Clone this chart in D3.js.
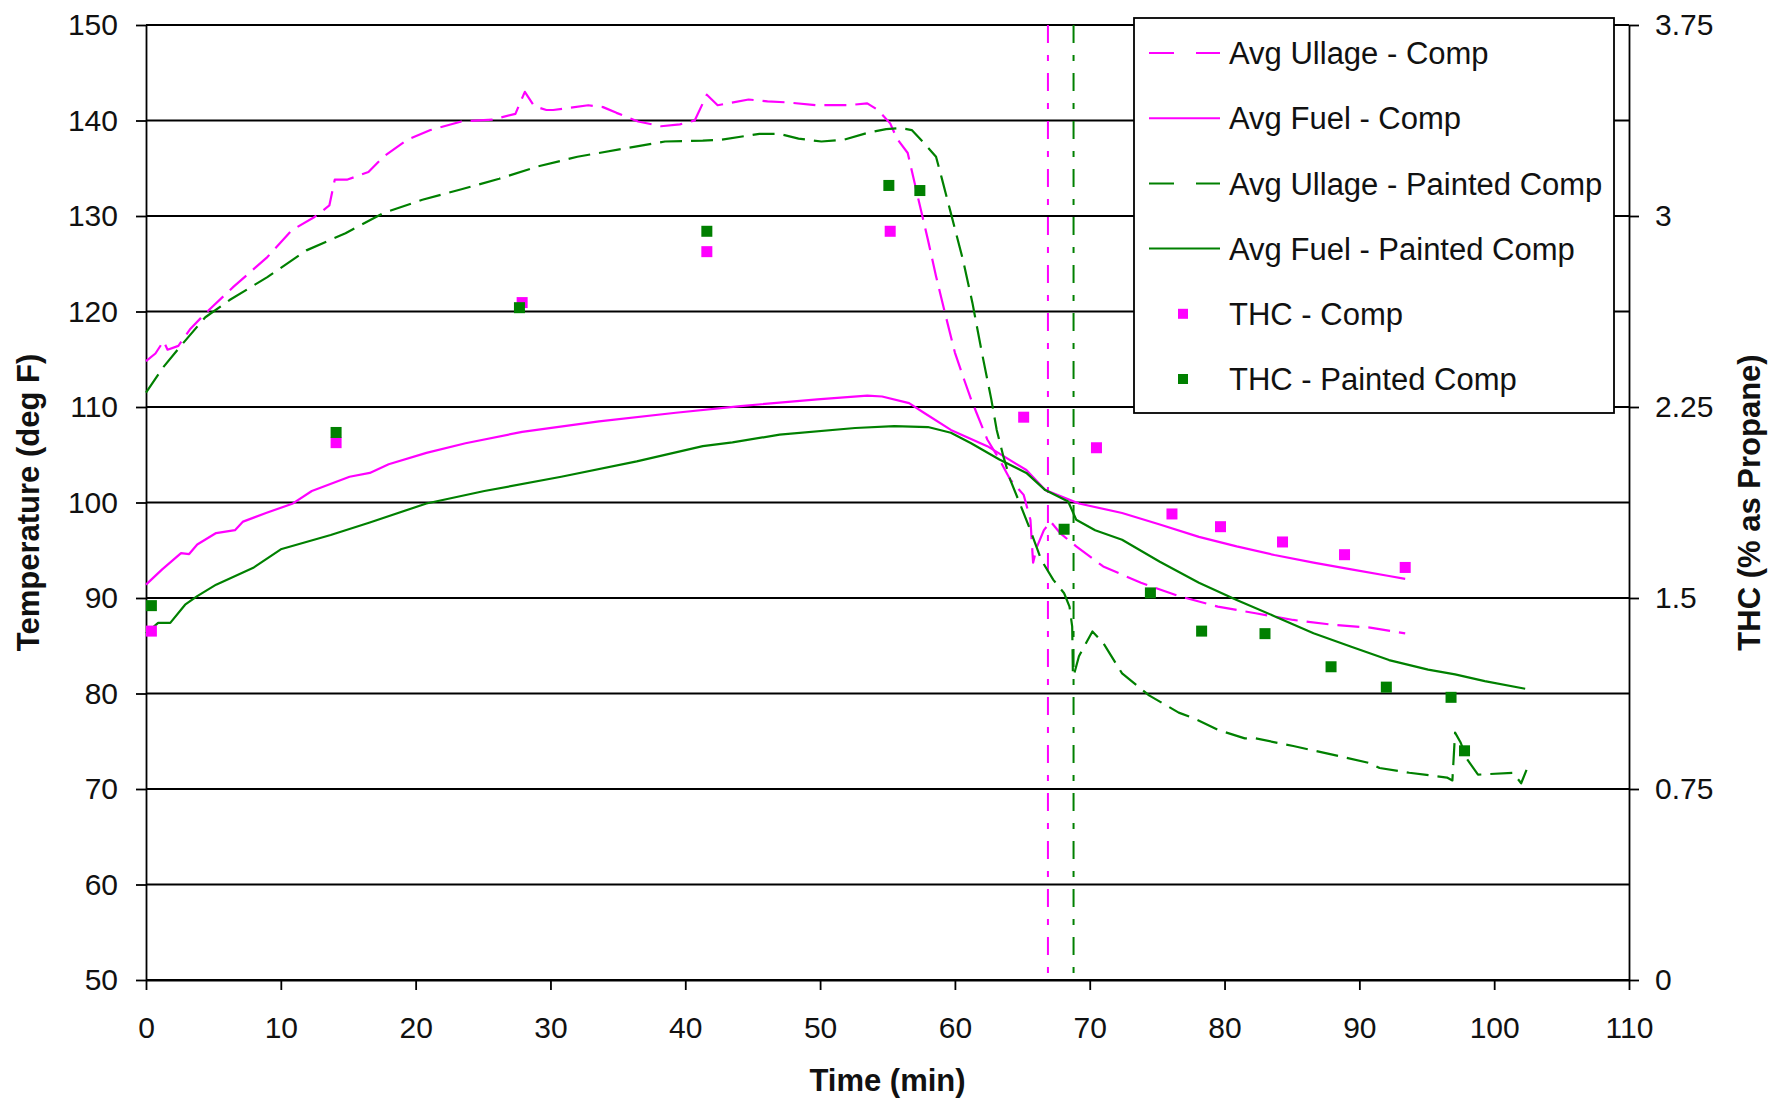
<!DOCTYPE html>
<html>
<head>
<meta charset="utf-8">
<script src="https://cdn.jsdelivr.net/npm/d3@7"></script>
<style>
  html, body { margin: 0; padding: 0; background: #fff; }
  svg { display: block; }
  text { font-family: "Liberation Sans", Arial, sans-serif; fill: #111; }
</style>
</head>
<body>
<svg id="chart" width="1780" height="1098"></svg>
<script>
// ---------------- DATA ----------------
const xTicks = [0, 10, 20, 30, 40, 50, 60, 70, 80, 90, 100, 110];
const yTicks = [50, 60, 70, 80, 90, 100, 110, 120, 130, 140, 150];
const y2Ticks = [0, 0.75, 1.5, 2.25, 3, 3.75];

const seriesNames = ["Avg Ullage - Comp", "Avg Fuel - Comp", "Avg Ullage - Painted Comp",
                     "Avg Fuel - Painted Comp", "THC - Comp", "THC - Painted Comp"];

// Avg Ullage - Comp (deg F)
const ullageCompTime = [0, 0.7, 1.3, 1.6, 2.4, 3.3, 4.4, 6.5, 9.0, 10.8, 12.5, 13.6, 14.0, 14.9, 16.5, 17.6, 19.4,
  21.1, 23.4, 25.7, 27.4, 28.1, 28.8, 29.7, 30.2, 32.8, 33.9, 34.9, 36.5, 38.2, 39.6, 40.7, 41.6, 42.4,
  44.7, 46.1, 47.5, 49.8, 52.1, 53.5, 54.3, 55.2, 55.7, 56.5, 57.3, 58.0, 58.6, 59.2, 60.0, 60.7, 61.2,
  61.6, 62.4, 63.3, 64.1, 65.1, 65.6, 65.8, 66.1, 66.6, 67.1, 67.8, 69.0, 71.0, 73.8, 76.6, 79.5, 82.3,
  85.1, 88.0, 90.8, 93.4];
const ullageCompTemp = [114.8, 115.6, 116.9, 116.0, 116.4, 118.2, 119.8, 122.6, 125.7, 128.5, 129.9, 131.1, 133.8, 133.8, 134.6, 136.2, 138.0,
  139.0, 139.9, 140.1, 140.7, 143.0, 141.5, 141.1, 141.1, 141.6, 141.4, 140.8, 139.9, 139.4, 139.6, 140.0, 142.7, 141.6,
  142.2, 142.0, 141.9, 141.6, 141.6, 141.8, 141.1, 139.7, 138.1, 136.6, 131.7, 127.5, 123.7, 120.2, 115.7, 112.8, 110.8,
  109.4, 106.6, 104.5, 102.4, 100.8, 98.2, 93.7, 95.4, 97.1, 98.0, 96.8, 95.4, 93.3, 91.6, 90.2, 89.1, 88.4,
  87.7, 87.2, 86.9, 86.3];

// Avg Fuel - Comp (deg F)
const fuelCompTime = [0, 1.2, 2.6, 3.2, 3.8, 5.2, 6.6, 7.2, 8.9, 10.9, 12.3, 15.1, 16.6, 18.0, 20.8, 23.7, 27.9,
  33.6, 39.3, 44.1, 49.8, 53.5, 54.6, 56.6, 57.7, 59.7, 62.4, 65.3, 66.7, 69.2, 72.4, 75.2, 78.1, 80.9,
  83.7, 86.6, 89.4, 92.2, 93.4];
const fuelCompTemp = [91.4, 93.0, 94.7, 94.6, 95.6, 96.8, 97.1, 98.0, 98.9, 99.9, 101.2, 102.7, 103.1, 104.0, 105.2, 106.2, 107.4,
  108.5, 109.4, 110.1, 110.8, 111.2, 111.1, 110.4, 109.4, 107.6, 105.9, 103.4, 101.3, 99.9, 98.9, 97.7, 96.4, 95.4,
  94.5, 93.7, 93.0, 92.3, 92.0];

// Avg Ullage - Painted Comp (deg F)
const ullagePaintTime = [0, 1.3, 2.7, 4.4, 6.2, 9.0, 11.9, 14.8, 17.6, 20.5, 23.4, 26.2, 29.1, 32.0, 35.6, 38.5, 41.3,
  42.7, 45.5, 47.0, 48.4, 50.1, 51.8, 53.5, 54.9, 56.0, 56.8, 57.6, 58.6, 59.0, 59.7, 60.6, 61.3, 62.0,
  62.7, 63.1, 63.6, 64.1, 64.9, 65.6, 66.4, 67.3, 68.1, 68.5, 68.7, 68.75, 68.8, 69.2, 70.2, 71.0, 72.4,
  74.4, 76.6, 77.9, 79.5, 81.5, 82.3, 85.1, 88.0, 90.8, 91.5, 93.7, 96.5, 96.9, 97.1, 97.5, 98.0, 98.8,
  101.4, 102.0, 102.4];
const ullagePaintTemp = [111.5, 114.2, 116.6, 119.4, 121.2, 123.6, 126.4, 128.2, 130.3, 131.7, 132.8, 133.9, 135.2, 136.2, 137.1, 137.8, 137.9,
  138.0, 138.6, 138.6, 138.1, 137.8, 138.0, 138.7, 139.1, 139.2, 139.0, 137.8, 136.2, 134.1, 130.3, 125.4, 120.9, 115.7,
  110.8, 107.6, 104.8, 102.4, 99.6, 97.1, 94.0, 91.9, 90.5, 89.1, 87.0, 82.2, 81.8, 83.9, 86.5, 85.3, 82.1,
  79.8, 78.0, 77.3, 76.2, 75.3, 75.3, 74.5, 73.6, 72.7, 72.2, 71.7, 71.2, 70.9, 75.9, 74.9, 73.1, 71.5,
  71.7, 70.6, 72.0];

// Avg Fuel - Painted Comp (deg F)
const fuelPaintTime = [0, 0.9, 1.8, 2.9, 3.8, 5.2, 8.0, 10.0, 13.7, 16.6, 20.8, 25.1, 30.8, 36.4, 41.3, 43.5, 47.0,
  52.6, 55.5, 58.0, 59.7, 61.2, 63.3, 65.3, 66.7, 68.4, 69.0, 70.4, 72.4, 75.2, 78.1, 80.9, 83.7, 86.6,
  89.4, 92.2, 95.1, 97.1, 99.3, 102.3];
const fuelPaintTemp = [86.3, 87.4, 87.4, 89.3, 90.2, 91.4, 93.2, 95.1, 96.6, 97.9, 99.9, 101.2, 102.7, 104.3, 105.9, 106.3, 107.1,
  107.8, 108.0, 107.9, 107.3, 106.2, 104.5, 103.1, 101.3, 100.1, 98.2, 97.1, 96.1, 93.8, 91.6, 89.8, 88.1, 86.3,
  84.9, 83.5, 82.5, 82.0, 81.3, 80.5];

// THC (% as Propane), right axis
const thcCompTime = [0.4, 14.1, 27.9, 41.6, 55.2, 65.1, 70.5, 76.1, 79.7, 84.3, 88.9, 93.4];
const thcCompValue = [1.37, 2.11, 2.66, 2.86, 2.94, 2.21, 2.09, 1.83, 1.78, 1.72, 1.67, 1.62];
const thcPaintTime = [0.4, 14.1, 27.7, 41.6, 55.1, 57.4, 68.1, 74.5, 78.3, 83.0, 87.9, 92.0, 96.8, 97.8];
const thcPaintValue = [1.47, 2.15, 2.64, 2.94, 3.12, 3.10, 1.77, 1.52, 1.37, 1.36, 1.23, 1.15, 1.11, 0.90];

// vertical event markers (min)
const eventTimes = [66.9, 68.8];

// ---------------- CHART ----------------
const W = 1780, H = 1098;
const M = { left: 146, right: 151, top: 25, bottom: 118 };
const MAGENTA = "#FF00FF", GREEN = "#008000";

const svg = d3.select("#chart");
const x = d3.scaleLinear().domain([0, 110]).range([M.left, W - M.right]);
const y = d3.scaleLinear().domain([50, 150]).range([H - M.bottom, M.top]);
const y2 = d3.scaleLinear().domain([0, 3.75]).range([H - M.bottom, M.top]);

// gridlines
svg.append("g").selectAll("line").data(yTicks).join("line")
  .attr("x1", x(0)).attr("x2", x(110))
  .attr("y1", d => y(d)).attr("y2", d => y(d))
  .attr("stroke", "#000").attr("stroke-width", 1.8);

// axes
function styleAxis(g) {
  g.selectAll(".domain").attr("stroke", "#000").attr("stroke-width", 1.8);
  g.selectAll(".tick line").attr("stroke", "#000").attr("stroke-width", 1.8);
  g.selectAll(".tick text").attr("font-size", 30).attr("fill", "#111")
    .attr("font-family", '"Liberation Sans", Arial, sans-serif');
}
svg.append("g").attr("transform", `translate(${M.left},0)`)
  .call(d3.axisLeft(y).tickValues(yTicks).tickSize(10).tickSizeOuter(0).tickPadding(18).tickFormat(d => String(d)))
  .call(styleAxis);
svg.append("g").attr("transform", `translate(0,${H - M.bottom})`)
  .call(d3.axisBottom(x).tickValues(xTicks).tickSize(10).tickSizeOuter(0).tickPadding(27).tickFormat(d => String(d)))
  .call(styleAxis);
svg.append("g").attr("transform", `translate(${W - M.right},0)`)
  .call(d3.axisRight(y2).tickValues(y2Ticks).tickSize(10).tickSizeOuter(0).tickPadding(16).tickFormat(d => String(d)))
  .call(styleAxis);

// axis titles
svg.append("text").attr("x", (x(0) + x(110)) / 2).attr("y", 1091)
  .attr("text-anchor", "middle").attr("font-size", 31).attr("font-weight", "bold").text("Time (min)");
svg.append("text").attr("transform", `translate(39,${(y(50) + y(150)) / 2}) rotate(-90)`)
  .attr("text-anchor", "middle").attr("font-size", 31).attr("font-weight", "bold").text("Temperature (deg F)");
svg.append("text").attr("transform", `translate(1760,${(y(50) + y(150)) / 2}) rotate(-90)`)
  .attr("text-anchor", "middle").attr("font-size", 31).attr("font-weight", "bold").text("THC (% as Propane)");

// vertical event lines
svg.append("g").selectAll("line").data(eventTimes).join("line")
  .attr("x1", d => x(d)).attr("x2", d => x(d))
  .attr("y1", y(150)).attr("y2", y(50))
  .attr("stroke", (d, i) => i === 0 ? MAGENTA : GREEN)
  .attr("stroke-width", 2)
  .attr("stroke-dasharray", "18,12,6,12");

// lines
const lineGen = d3.line().x(d => x(d[0])).y(d => y(d[1]));
const lines = [
  { t: ullageCompTime, v: ullageCompTemp, color: MAGENTA, dash: "22,9" },
  { t: fuelCompTime, v: fuelCompTemp, color: MAGENTA, dash: null },
  { t: ullagePaintTime, v: ullagePaintTemp, color: GREEN, dash: "22,9" },
  { t: fuelPaintTime, v: fuelPaintTemp, color: GREEN, dash: null }
];
lines.forEach(s => {
  svg.append("path")
    .datum(s.t.map((t, i) => [t, s.v[i]]))
    .attr("d", lineGen)
    .attr("fill", "none")
    .attr("stroke", s.color)
    .attr("stroke-width", 2.2)
    .attr("stroke-linejoin", "round")
    .attr("stroke-dasharray", s.dash);
});

// scatter (right axis)
const SQ = 11;
function squares(times, vals, color) {
  svg.append("g").selectAll("rect").data(times.map((t, i) => [t, vals[i]])).join("rect")
    .attr("x", d => x(d[0]) - SQ / 2).attr("y", d => y2(d[1]) - SQ / 2)
    .attr("width", SQ).attr("height", SQ).attr("fill", color);
}
squares(thcCompTime, thcCompValue, MAGENTA);
squares(thcPaintTime, thcPaintValue, GREEN);

// legend
const leg = svg.append("g");
leg.append("rect").attr("x", 1134).attr("y", 18).attr("width", 480).attr("height", 395)
  .attr("fill", "#fff").attr("stroke", "#000").attr("stroke-width", 1.8);
const legStyles = [
  { color: MAGENTA, type: "dash" }, { color: MAGENTA, type: "solid" },
  { color: GREEN, type: "dash" }, { color: GREEN, type: "solid" },
  { color: MAGENTA, type: "square" }, { color: GREEN, type: "square" }
];
seriesNames.forEach((name, i) => {
  const cy = 53 + i * 65.2;
  const st = legStyles[i];
  if (st.type === "square") {
    leg.append("rect").attr("x", 1183 - 5).attr("y", cy - 5).attr("width", 10).attr("height", 10).attr("fill", st.color);
  } else {
    leg.append("line").attr("x1", 1149).attr("x2", 1220).attr("y1", cy).attr("y2", cy)
      .attr("stroke", st.color).attr("stroke-width", 2)
      .attr("stroke-dasharray", st.type === "dash" ? "25,22" : null);
  }
  leg.append("text").attr("x", 1229).attr("y", cy).attr("dy", "0.36em")
    .attr("font-size", 31).text(name);
});
</script>
</body>
</html>
